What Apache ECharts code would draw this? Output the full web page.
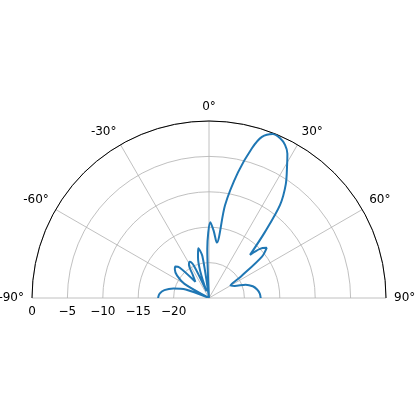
<!DOCTYPE html>
<html><head><meta charset="utf-8">
<script src="https://cdn.jsdelivr.net/npm/echarts@6/dist/echarts.min.js"></script>
<style>html,body{margin:0;padding:0;background:#fff}#c{width:416px;height:416px}</style>
</head><body><div id="c"></div>
<script>
var angles = [-90,-85,-80,-75,-70,-65,-60,-55,-50,-47,-44,-40,-35,-31,-28,-25,-20,-15,-12,-9,-5,-2,1,4,8,9.8,13,16,18.2,21.3,24,26.4,28.5,30.4,34,37.4,40.3,43.6,46,49,52,56,60,65,70,75,80,85,90];
var gains = [-17.8,-18.0,-18.6,-19.8,-21.5,-25,-21,-19.5,-18.7,-18.5,-19,-22,-21,-19.5,-19.2,-20,-24,-19,-17.8,-19,-25,-18,-14.3,-15.5,-17.1,-11.7,-6.8,-3,-1.05,-0.15,-0.3,-0.85,-1.8,-3.2,-5.6,-8.5,-12.8,-16.6,-15,-14.2,-15.5,-19.5,-21.5,-21,-19.5,-18.6,-18.1,-17.8,-17.7];
var radTicks = [-25,-20,-15,-10,-5,0];

var data = [];
for (var i = 0; i < angles.length; i++) data.push([gains[i], angles[i]]);

var chart = echarts.init(document.getElementById('c'));
chart.setOption({
    animation: false,
    textStyle: { fontFamily: 'DejaVu Sans' },
    polar: { center: [209, 298], radius: 177 },
    angleAxis: {
        type: 'value', min: -90, max: 90, interval: 30,
        startAngle: 180, endAngle: 0, clockwise: true,
        axisLine: { lineStyle: { color: '#000', width: 1 } },
        axisTick: { show: false },
        splitLine: { lineStyle: { color: '#b0b0b0', width: 0.8 } },
        axisLabel: { color: '#000', fontSize: 12, margin: 8, formatter: function(v) { return v + '°'; } }
    },
    radiusAxis: {
        type: 'value', min: radTicks[0], max: radTicks[radTicks.length - 1], interval: 5,
        axisLine: { show: false }, axisTick: { show: false },
        splitLine: { lineStyle: { color: '#b0b0b0', width: 0.8 } },
        axisLabel: { color: '#000', fontSize: 12, rotate: 0, verticalAlign: 'top', margin: 8,
            formatter: function(v) { return v === -25 ? '' : (v < 0 ? '\u2212' + (-v) : '' + v); } }
    },
    series: [{
        type: 'line', coordinateSystem: 'polar', data: data, smooth: 0.3,
        symbol: 'none', lineStyle: { color: '#1f77b4', width: 2 }
    }]
});
</script></body></html>
